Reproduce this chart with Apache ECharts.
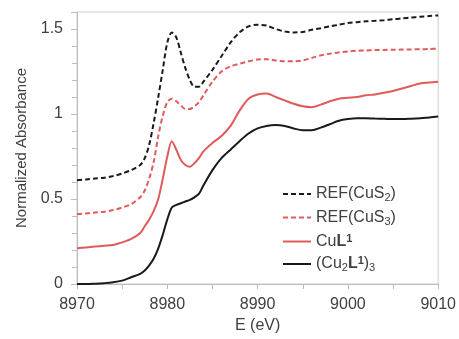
<!DOCTYPE html>
<html>
<head>
<meta charset="utf-8">
<script src="https://cdn.jsdelivr.net/npm/echarts@6/dist/echarts.min.js"></script>
<style>
  html, body { margin: 0; padding: 0; background: #fff; }
  #chart { width: 459px; height: 339px; }
</style>
</head>
<body>
<div id="chart"></div>
<script>
// energies (eV), shared by all four spectra
const energies = [
  8970, 8971, 8972, 8973, 8974, 8975, 8976, 8977, 8977.5, 8978, 8978.5, 8979,
  8979.5, 8980, 8980.5, 8981, 8981.5, 8982, 8982.5, 8983, 8983.5, 8984, 8985,
  8986, 8987, 8988, 8989, 8990, 8991, 8992, 8993, 8994, 8995, 8996, 8997, 8998,
  8999, 9000, 9001, 9002, 9003, 9004, 9005, 9006, 9007, 9008, 9009, 9010
];

const refCuS2 = [
  0.61, 0.615, 0.62, 0.625, 0.635, 0.65, 0.67, 0.70, 0.74, 0.82, 0.95, 1.10,
  1.26, 1.42, 1.48, 1.45, 1.36, 1.27, 1.20, 1.16, 1.16, 1.19, 1.26,
  1.34, 1.42, 1.48, 1.515, 1.525, 1.52, 1.50, 1.485, 1.48, 1.482, 1.495, 1.505, 1.515,
  1.525, 1.535, 1.54, 1.545, 1.548, 1.552, 1.557, 1.562, 1.567, 1.572, 1.576, 1.58
];

const refCuS3 = [
  0.41, 0.415, 0.42, 0.425, 0.435, 0.45, 0.47, 0.51, 0.55, 0.62, 0.72, 0.87,
  0.99, 1.07, 1.09, 1.075, 1.05, 1.03, 1.03, 1.045, 1.07, 1.11, 1.19,
  1.25, 1.28, 1.295, 1.31, 1.32, 1.322, 1.315, 1.31, 1.31, 1.315, 1.33, 1.345, 1.355,
  1.362, 1.368, 1.372, 1.374, 1.376, 1.377, 1.378, 1.379, 1.38, 1.381, 1.382, 1.385
];

const cuL1 = [
  0.21, 0.215, 0.22, 0.225, 0.23, 0.245, 0.265, 0.30, 0.34, 0.38, 0.43, 0.50,
  0.62, 0.75, 0.84, 0.79, 0.73, 0.70, 0.69, 0.71, 0.74, 0.78, 0.83,
  0.87, 0.93, 1.02, 1.09, 1.115, 1.12, 1.10, 1.08, 1.06, 1.045, 1.04, 1.055, 1.075,
  1.09, 1.095, 1.10, 1.11, 1.115, 1.125, 1.135, 1.15, 1.165, 1.18, 1.185, 1.19
];

const cu2L1_3 = [
  0, 0, 0.002, 0.005, 0.01, 0.02, 0.04, 0.06, 0.08, 0.11, 0.15, 0.21,
  0.29, 0.38, 0.45, 0.465, 0.475, 0.485, 0.495, 0.51, 0.53, 0.58, 0.67,
  0.74, 0.79, 0.84, 0.885, 0.915, 0.93, 0.935, 0.93, 0.915, 0.905, 0.905, 0.92, 0.94,
  0.96, 0.97, 0.975, 0.975, 0.973, 0.972, 0.97, 0.97, 0.972, 0.975, 0.98, 0.985
];

const legendNames = ['REF(CuS2)', 'REF(CuS3)', 'CuL1', '(Cu2L1)3'];
const legendRich = {
  'REF(CuS2)': '{a|REF(CuS}{s|2}{a|)}',
  'REF(CuS3)': '{a|REF(CuS}{s|3}{a|)}',
  'CuL1': '{a|Cu}{b|L}{p|1}',
  '(Cu2L1)3': '{a|(Cu}{s|2}{b|L}{p|1}{a|)}{s|3}'
};

const BLACK = '#1a1a1a';
const RED = '#e05a5a';
const AXIS = '#bdbdbd';
const TEXT = '#404040';
const FONT = '"Liberation Sans", Arial, sans-serif';

const pairs = vals => energies.map((e, i) => [e, vals[i]]);

const chart = echarts.init(document.getElementById('chart'));

const lineSeries = (name, vals, color, dashed) => ({
  name: name,
  type: 'line',
  data: pairs(vals),
  showSymbol: false,
  symbol: 'none',
  smooth: 0.3,
  lineStyle: { color: color, width: 2, type: dashed ? [5, 3] : 'solid' },
  itemStyle: { color: color }
});

chart.setOption({
  animation: false,
  textStyle: { fontFamily: FONT },
  grid: {
    left: 77, right: 19, top: 12, bottom: 50,
    show: true, borderColor: '#cfcfcf', borderWidth: 1
  },
  legend: {
    data: legendNames,
    orient: 'vertical',
    left: 277,
    top: 181,
    itemWidth: 28,
    itemHeight: 14,
    itemGap: 6,
    itemStyle: { opacity: 0 },
    formatter: name => legendRich[name],
    textStyle: {
      color: TEXT,
      rich: {
        a: { fontSize: 16, fontFamily: FONT, color: TEXT },
        b: { fontSize: 16, fontFamily: FONT, color: TEXT, fontWeight: 'bold' },
        s: { fontSize: 11, fontFamily: FONT, color: TEXT, padding: [8, 0, 0, 0] },
        p: { fontSize: 11, fontFamily: FONT, color: TEXT, fontWeight: 'bold', padding: [0, 0, 6, 0] }
      }
    }
  },
  xAxis: {
    type: 'value',
    min: 8970, max: 9010, interval: 10,
    name: 'E (eV)',
    nameLocation: 'middle',
    nameGap: 34,
    nameTextStyle: { fontSize: 16, color: TEXT },
    axisLine: { lineStyle: { color: AXIS } },
    axisTick: { show: true, length: 5, lineStyle: { color: AXIS } },
    minorTick: { show: true, splitNumber: 2, length: 5, lineStyle: { color: AXIS } },
    axisLabel: { fontSize: 16, color: TEXT, margin: 13, formatter: v => String(v) },
    splitLine: { show: false }
  },
  yAxis: {
    type: 'value',
    min: 0, max: 1.6, interval: 0.5,
    name: 'Normalized Absorbance',
    nameLocation: 'middle',
    nameGap: 48,
    nameTextStyle: { fontSize: 15, color: TEXT },
    axisLine: { show: true, lineStyle: { color: AXIS } },
    axisTick: { show: true, length: 6, lineStyle: { color: AXIS } },
    minorTick: { show: true, splitNumber: 5, length: 5, lineStyle: { color: AXIS } },
    axisLabel: { fontSize: 16, color: TEXT, margin: 14, showMaxLabel: false },
    splitLine: { show: false }
  },
  series: [
    lineSeries('REF(CuS2)', refCuS2, BLACK, true),
    lineSeries('REF(CuS3)', refCuS3, RED, true),
    lineSeries('CuL1', cuL1, RED, false),
    lineSeries('(Cu2L1)3', cu2L1_3, BLACK, false)
  ]
});
</script>
</body>
</html>
